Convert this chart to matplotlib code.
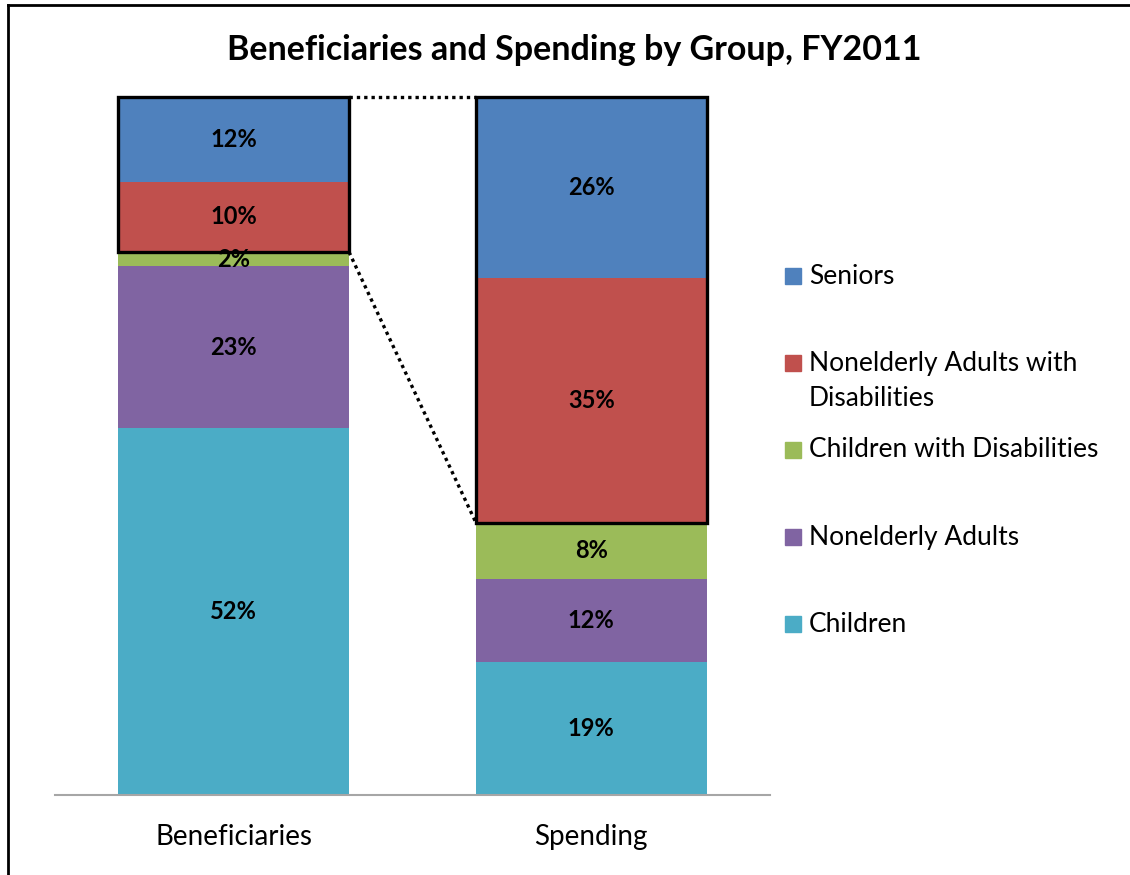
import numpy as np
import matplotlib
matplotlib.use('Agg')
import matplotlib.pyplot as plt
from matplotlib.patches import Rectangle

plt.rcParams['font.family'] = ['Lato', 'DejaVu Sans']

# --- datos ---
groups = ['Beneficiaries', 'Spending']
series = ['Children', 'Nonelderly Adults', 'Children with Disabilities',
          'Nonelderly Adults with Disabilities', 'Seniors']
children = [52, 19]
nonelderly_adults = [23, 12]
children_dis = [2, 8]
adults_dis = [10, 35]
seniors = [12, 26]
colors = ['#4BACC6', '#8064A2', '#9BBB59', '#C0504D', '#4F81BD']
legend_labels = ['Seniors', 'Nonelderly Adults with\nDisabilities',
                 'Children with Disabilities', 'Nonelderly Adults', 'Children']

vals = np.array([children, nonelderly_adults, children_dis, adults_dis, seniors], dtype=float)
pct = vals / vals.sum(axis=0) * 100  # 100% apilado como Excel

fig = plt.figure(figsize=(11.3, 8.75), dpi=100)
ax = fig.add_axes([55/1130, 80/875, 715/1130, 698/875])

x = np.arange(len(groups))
width = 0.645
bottom = np.zeros(len(groups))
for i, name in enumerate(series):
    ax.bar(x, pct[i], width, bottom=bottom, color=colors[i], label=name)
    for j in range(len(groups)):
        ax.text(x[j], bottom[j] + pct[i][j] / 2, f"{int(vals[i][j])}%",
                ha='center', va='center', fontsize=17, fontweight='bold')
    bottom += pct[i]

ax.set_xlim(-0.5, 1.5)
ax.set_ylim(0, 100)
ax.set_yticks([])
ax.set_xticks(x)
ax.set_xticklabels(groups, fontsize=20)
ax.tick_params(axis='x', length=0, pad=21)
for s in ['top', 'right', 'left']:
    ax.spines[s].set_visible(False)
ax.spines['bottom'].set_color('#A6A6A6')
ax.spines['bottom'].set_linewidth(1.5)

# cajas negras sobre discapacitados + mayores
box_bottom = pct[:3].sum(axis=0)
for j in range(len(groups)):
    ax.add_patch(Rectangle((x[j] - width/2, box_bottom[j]), width, 100 - box_bottom[j],
                           fill=False, edgecolor='black', linewidth=2.4, clip_on=False, zorder=5))
# líneas punteadas de conexión
ax.plot([x[0] + width/2, x[1] - width/2], [100, 100], color='black', lw=2.4,
        ls=(0, (1, 1.2)), clip_on=False, zorder=5)
ax.plot([x[0] + width/2, x[1] - width/2], [box_bottom[0], box_bottom[1]], color='black',
        lw=2.4, ls=(0, (1, 1.2)), clip_on=False, zorder=5)

# --- leyenda manual ---
leg_y = [276, 363, 450, 537, 624]
leg_colors = colors[::-1]
for lab, yy, c in zip(legend_labels, leg_y, leg_colors):
    fig.patches.append(Rectangle((785/1130, 1 - (yy + 8)/875), 16/1130, 16/875,
                                 transform=fig.transFigure, color=c))
    if '\n' in lab:
        fig.text(809/1130, 1 - (yy - 12)/875, lab, fontsize=19, va='top', ha='left',
                 linespacing=1.5)
    else:
        fig.text(809/1130, 1 - yy/875, lab, fontsize=19, va='center', ha='left')

fig.text(574/1130, 1 - 50/875, 'Beneficiaries and Spending by Group, FY2011',
         ha='center', va='center', fontsize=24.5, fontweight='bold')

# marco exterior
fig.add_artist(plt.Line2D([8/1130, 1], [1 - 5/875, 1 - 5/875], color='black', lw=2))
fig.add_artist(plt.Line2D([8/1130, 8/1130], [0, 1 - 5/875], color='black', lw=2))

fig.savefig('out.png', dpi=100)
